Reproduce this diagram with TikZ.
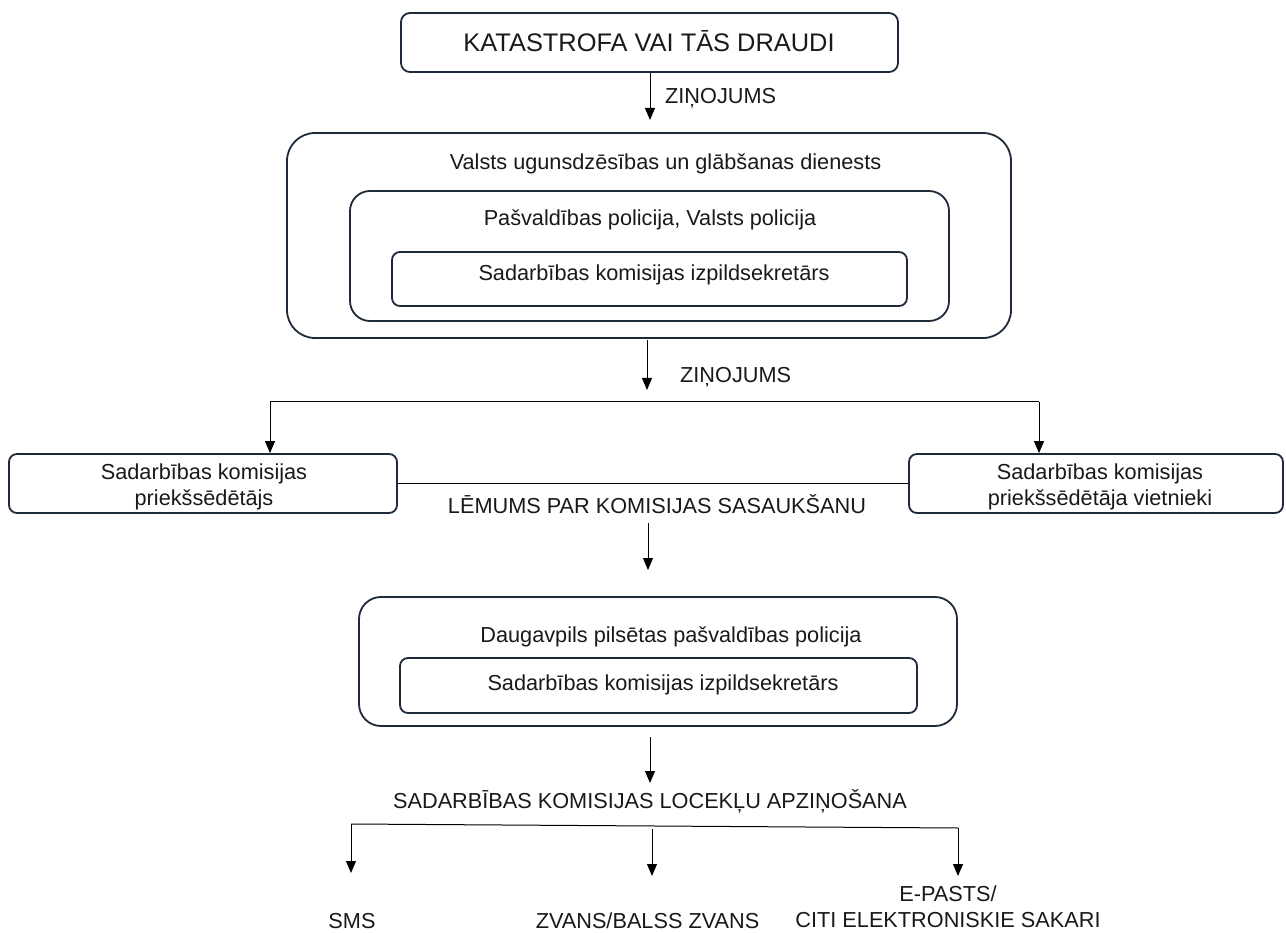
\documentclass[tikz,border=0pt]{standalone}
\usepackage{fontspec}
\setmainfont{Liberation Sans}
\usetikzlibrary{arrows.meta}
\definecolor{boxLine}{RGB}{30,42,58}
\definecolor{inkText}{RGB}{25,25,25}
\tikzset{
frameMe/.style={draw=boxLine, line width=1.8pt, rounded corners=#1, inner sep=0pt},
textMe/.style={font=\fontsize{21.7pt}{26pt}\selectfont, text=inkText, anchor=base, inner sep=0pt, align=center},
lineMe/.style={draw=black, line width=1pt},
arrowMe/.style={lineMe, -{Triangle[width=10pt,length=12pt]}}
}
\begin{document}
\begin{tikzpicture}[x=1pt,y=-1pt]
    \useasboundingbox (0,0) rectangle (1286,933);

    % boxes
    \node[frameMe=9pt, minimum width=497pt, minimum height=59pt] (b_kat) at (649.5,42.5) {};
    \node[frameMe=28pt, minimum width=724pt, minimum height=205pt] (b_vugd) at (649,235.5) {};
    \node[frameMe=20pt, minimum width=599pt, minimum height=130pt] (b_pol) at (649.5,256) {};
    \node[frameMe=8pt, minimum width=515pt, minimum height=54pt] (b_sek1) at (649.5,279) {};
    \node[frameMe=8pt, minimum width=388pt, minimum height=59pt] (b_pri) at (203,483.5) {};
    \node[frameMe=8pt, minimum width=374pt, minimum height=59pt] (b_vie) at (1096,483.5) {};
    \node[frameMe=22pt, minimum width=598pt, minimum height=129pt] (b_dpp) at (658,661.5) {};
    \node[frameMe=8pt, minimum width=517pt, minimum height=55pt] (b_sek2) at (658.5,685.5) {};

    % texts (base = last line)
    \node[textMe, font=\fontsize{25.4pt}{30pt}\selectfont] (t_kat) at (649,52) {KATASTROFA VAI TĀS DRAUDI};
    \node[textMe, anchor=base west] (t_zin1) at (665,104) {ZIŅOJUMS};
    \node[textMe] (t_vugd) at (665.5,170) {Valsts ugunsdzēsības un glābšanas dienests};
    \node[textMe] (t_pol) at (650,226) {Pašvaldības policija, Valsts policija};
    \node[textMe] (t_sek1) at (654,281) {Sadarbības komisijas izpildsekretārs};
    \node[textMe, anchor=base west] (t_zin2) at (680,383) {ZIŅOJUMS};
    \node[textMe] (t_pri) at (204,505) {Sadarbības komisijas\\priekšsēdētājs};
    \node[textMe] (t_vie) at (1100,505) {Sadarbības komisijas\\priekšsēdētāja vietnieki};
    \node[textMe] (t_lem) at (657,513) {LĒMUMS PAR KOMISIJAS SASAUKŠANU};
    \node[textMe] (t_dpp) at (671,642) {Daugavpils pilsētas pašvaldības policija};
    \node[textMe] (t_sek2) at (663,690) {Sadarbības komisijas izpildsekretārs};
    \node[textMe] (t_apz) at (650,808) {SADARBĪBAS KOMISIJAS LOCEKĻU APZIŅOŠANA};
    \node[textMe] (t_sms) at (352,928) {SMS};
    \node[textMe] (t_zv) at (647.5,928) {ZVANS/BALSS ZVANS};
    \node[textMe] (t_ep) at (948,927) {E-PASTS/\\CITI ELEKTRONISKIE SAKARI};

    % free ends of the connectors
    \coordinate (e_1) at (650,120);
    \coordinate (s_2) at (647,340);
    \coordinate (e_2) at (647,390);
    \coordinate (j_1) at (270,402);
    \coordinate (j_2) at (1039,402);
    \coordinate (s_3) at (648,523);
    \coordinate (e_3) at (648,570);
    \coordinate (s_4) at (650,737);
    \coordinate (e_4) at (650,783);
    \coordinate (m_1) at (351,824);
    \coordinate (m_2) at (652,829);
    \coordinate (m_3) at (958,828);

    % connectors
    \draw[arrowMe] (b_kat.south -| e_1) -- (e_1);
    \draw[arrowMe] (s_2) -- (e_2);
    \draw[lineMe] (j_1) -- (j_2);
    \draw[arrowMe] (j_1) -- (j_1 |- b_pri.north);
    \draw[arrowMe] (j_2) -- (j_2 |- b_vie.north);
    \draw[lineMe] (b_pri.east) -- (b_vie.west);
    \draw[arrowMe] (s_3) -- (e_3);
    \draw[arrowMe] (s_4) -- (e_4);
    \draw[lineMe] (m_1) -- (m_3);
    \draw[arrowMe] (m_1) -- ++(0,49);
    \draw[arrowMe] (m_2) -- ++(0,47);
    \draw[arrowMe] (m_3) -- ++(0,48);
\end{tikzpicture}
\end{document}
